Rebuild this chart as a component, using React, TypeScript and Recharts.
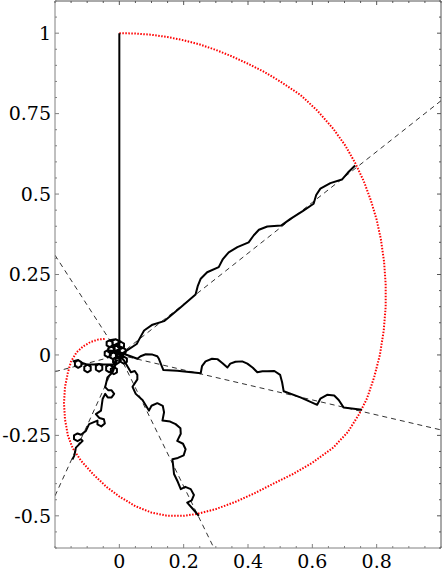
import { LineChart, Line, XAxis, YAxis } from 'recharts';

// axis ticks (every 0.05) and the ones that carry a label
const xTicks = [-0.2, -0.15, -0.1, -0.05, 0, 0.05, 0.1, 0.15, 0.2, 0.25, 0.3, 0.35, 0.4, 0.45, 0.5, 0.55, 0.6, 0.65, 0.7, 0.75, 0.8, 0.85, 0.9, 0.95, 1];
const xLabels = [0, 0.2, 0.4, 0.6, 0.8];
const yTicks = [-0.6, -0.55, -0.5, -0.45, -0.4, -0.35, -0.3, -0.25, -0.2, -0.15, -0.1, -0.05, 0, 0.05, 0.1, 0.15, 0.2, 0.25, 0.3, 0.35, 0.4, 0.45, 0.5, 0.55, 0.6, 0.65, 0.7, 0.75, 0.8, 0.85, 0.9, 0.95, 1, 1.05, 1.1];
const yLabels = [-0.5, -0.25, 0, 0.25, 0.5, 0.75, 1];

// dashed guide lines through the origin
const dashA = [{ x: 0, y: 0 }, { x: 1, y: 0.79 }];
const dashB = [{ x: 0, y: 0 }, { x: 1, y: -0.233 }];
const dashC = [{ x: -0.2, y: 0.31 }, { x: 0, y: 0 }];
const dashD = [{ x: 0, y: 0 }, { x: 0.294, y: -0.6 }];
const dashE = [{ x: -0.2, y: -0.052 }, { x: 0, y: 0 }];
const dashF = [{ x: -0.2, y: -0.438 }, { x: 0, y: 0 }];

// red dotted spiral
const spiral = [
  { x: 0, y: 1 }, { x: 0.05, y: 0.999 }, { x: 0.1, y: 0.995 }, { x: 0.15, y: 0.988 }, { x: 0.2, y: 0.978 },
  { x: 0.25, y: 0.965 }, { x: 0.3, y: 0.948 }, { x: 0.35, y: 0.928 }, { x: 0.4, y: 0.905 }, { x: 0.45, y: 0.88 },
  { x: 0.5, y: 0.85 }, { x: 0.563, y: 0.808 }, { x: 0.615, y: 0.76 }, { x: 0.665, y: 0.703 }, { x: 0.703, y: 0.65 },
  { x: 0.733, y: 0.597 }, { x: 0.76, y: 0.54 }, { x: 0.782, y: 0.48 }, { x: 0.8, y: 0.42 }, { x: 0.813, y: 0.36 },
  { x: 0.823, y: 0.29 }, { x: 0.828, y: 0.22 }, { x: 0.828, y: 0.15 }, { x: 0.822, y: 0.076 }, { x: 0.81, y: 0.0 },
  { x: 0.792, y: -0.07 }, { x: 0.77, y: -0.135 }, { x: 0.745, y: -0.185 }, { x: 0.71, y: -0.24 }, { x: 0.665, y: -0.288 },
  { x: 0.6, y: -0.335 }, { x: 0.54, y: -0.37 }, { x: 0.479, y: -0.4 }, { x: 0.42, y: -0.43 }, { x: 0.36, y: -0.457 },
  { x: 0.3, y: -0.479 }, { x: 0.242, y: -0.494 }, { x: 0.2, y: -0.5 }, { x: 0.15, y: -0.5 }, { x: 0.1, y: -0.49 },
  { x: 0.05, y: -0.47 }, { x: 0, y: -0.44 }, { x: -0.04, y: -0.41 }, { x: -0.08, y: -0.372 }, { x: -0.119, y: -0.329 },
  { x: -0.145, y: -0.29 }, { x: -0.16, y: -0.25 }, { x: -0.169, y: -0.2 }, { x: -0.172, y: -0.15 }, { x: -0.169, y: -0.1 },
  { x: -0.16, y: -0.055 }, { x: -0.15, y: -0.02 }, { x: -0.133, y: 0.008 }, { x: -0.112, y: 0.027 }, { x: -0.09, y: 0.04 },
  { x: -0.065, y: 0.048 }, { x: -0.042, y: 0.05 },
];

// black curves
const stem = [{ x: 0, y: 0.02 }, { x: 0, y: 1 }];

const upperArm = [
  { x: 0.01, y: 0.005 }, { x: 0.054, y: 0.034 }, { x: 0.068, y: 0.06 }, { x: 0.077, y: 0.076 }, { x: 0.103, y: 0.094 },
  { x: 0.139, y: 0.105 }, { x: 0.154, y: 0.117 }, { x: 0.191, y: 0.148 }, { x: 0.237, y: 0.188 }, { x: 0.244, y: 0.215 },
  { x: 0.253, y: 0.237 }, { x: 0.273, y: 0.257 }, { x: 0.309, y: 0.273 }, { x: 0.322, y: 0.298 }, { x: 0.34, y: 0.319 },
  { x: 0.367, y: 0.335 }, { x: 0.402, y: 0.35 }, { x: 0.418, y: 0.372 }, { x: 0.434, y: 0.389 }, { x: 0.46, y: 0.399 },
  { x: 0.503, y: 0.402 }, { x: 0.532, y: 0.423 }, { x: 0.57, y: 0.447 }, { x: 0.604, y: 0.47 }, { x: 0.612, y: 0.497 },
  { x: 0.625, y: 0.517 }, { x: 0.656, y: 0.534 }, { x: 0.692, y: 0.545 }, { x: 0.71, y: 0.566 }, { x: 0.733, y: 0.589 },
];

const rightArm = [
  { x: 0.015, y: 0.003 }, { x: 0.035, y: -0.004 }, { x: 0.056, y: -0.012 }, { x: 0.066, y: -0.004 }, { x: 0.082, y: 0.002 },
  { x: 0.103, y: 0.001 }, { x: 0.118, y: -0.004 }, { x: 0.123, y: -0.012 }, { x: 0.13, y: -0.03 }, { x: 0.137, y: -0.047 },
  { x: 0.18, y: -0.049 }, { x: 0.253, y: -0.057 }, { x: 0.257, y: -0.035 }, { x: 0.268, y: -0.02 }, { x: 0.288, y: -0.012 },
  { x: 0.305, y: -0.013 }, { x: 0.32, y: -0.025 }, { x: 0.336, y: -0.039 }, { x: 0.345, y: -0.027 }, { x: 0.361, y: -0.021 },
  { x: 0.382, y: -0.02 }, { x: 0.398, y: -0.027 }, { x: 0.415, y: -0.04 }, { x: 0.429, y: -0.054 }, { x: 0.445, y: -0.051 },
  { x: 0.46, y: -0.051 }, { x: 0.482, y: -0.05 }, { x: 0.5, y: -0.062 }, { x: 0.506, y: -0.085 }, { x: 0.511, y: -0.113 },
  { x: 0.563, y: -0.132 }, { x: 0.615, y: -0.155 }, { x: 0.625, y: -0.136 }, { x: 0.646, y: -0.124 }, { x: 0.668, y: -0.126 },
  { x: 0.682, y: -0.14 }, { x: 0.697, y: -0.163 }, { x: 0.754, y: -0.17 },
];

const lowerArm = [
  { x: 0.008, y: -0.01 }, { x: 0.015, y: -0.018 }, { x: 0.036, y: -0.054 }, { x: 0.048, y: -0.05 }, { x: 0.056, y: -0.062 },
  { x: 0.056, y: -0.076 }, { x: 0.041, y: -0.099 }, { x: 0.051, y: -0.121 }, { x: 0.072, y: -0.14 }, { x: 0.092, y: -0.173 },
  { x: 0.1, y: -0.158 }, { x: 0.118, y: -0.15 }, { x: 0.135, y: -0.158 }, { x: 0.139, y: -0.178 }, { x: 0.134, y: -0.204 },
  { x: 0.158, y: -0.207 }, { x: 0.175, y: -0.215 }, { x: 0.19, y: -0.228 }, { x: 0.191, y: -0.245 }, { x: 0.18, y: -0.267 },
  { x: 0.198, y: -0.276 }, { x: 0.206, y: -0.293 }, { x: 0.2, y: -0.312 }, { x: 0.182, y: -0.32 }, { x: 0.165, y: -0.324 },
  { x: 0.168, y: -0.35 }, { x: 0.17, y: -0.37 }, { x: 0.182, y: -0.395 }, { x: 0.191, y: -0.417 }, { x: 0.205, y: -0.41 },
  { x: 0.222, y: -0.417 }, { x: 0.232, y: -0.435 }, { x: 0.225, y: -0.452 }, { x: 0.211, y: -0.459 }, { x: 0.228, y: -0.478 },
  { x: 0.247, y: -0.5 },
];

const leftArm = [
  { x: -0.005, y: -0.015 }, { x: -0.02, y: -0.03 },
  { x: -0.031, y: -0.03 }, { x: -0.021, y: -0.036 }, { x: -0.021, y: -0.048 }, { x: -0.031, y: -0.054 }, { x: -0.041, y: -0.048 }, { x: -0.041, y: -0.036 }, { x: -0.031, y: -0.03 },
  { x: -0.05, y: -0.03 },
  { x: -0.063, y: -0.028 }, { x: -0.053, y: -0.034 }, { x: -0.053, y: -0.046 }, { x: -0.063, y: -0.052 }, { x: -0.073, y: -0.046 }, { x: -0.073, y: -0.034 }, { x: -0.063, y: -0.028 },
  { x: -0.08, y: -0.03 },
  { x: -0.099, y: -0.03 }, { x: -0.089, y: -0.036 }, { x: -0.089, y: -0.048 }, { x: -0.099, y: -0.054 }, { x: -0.109, y: -0.048 }, { x: -0.109, y: -0.036 }, { x: -0.099, y: -0.03 },
  { x: -0.115, y: -0.025 },
  { x: -0.128, y: -0.016 }, { x: -0.118, y: -0.022 }, { x: -0.118, y: -0.034 }, { x: -0.128, y: -0.04 }, { x: -0.138, y: -0.034 }, { x: -0.138, y: -0.022 }, { x: -0.128, y: -0.016 },
  { x: -0.145, y: -0.02 },
];

const lowerLeftArm = [
  { x: -0.008, y: -0.02 }, { x: -0.021, y: -0.054 }, { x: -0.037, y: -0.07 }, { x: -0.044, y: -0.1 },
  { x: -0.034, y: -0.11 }, { x: -0.024, y: -0.11 }, { x: -0.016, y: -0.121 }, { x: -0.024, y: -0.132 }, { x: -0.036, y: -0.132 }, { x: -0.044, y: -0.121 },
  { x: -0.052, y: -0.137 }, { x: -0.057, y: -0.173 }, { x: -0.073, y: -0.184 },
  { x: -0.062, y: -0.196 }, { x: -0.048, y: -0.2 }, { x: -0.045, y: -0.213 }, { x: -0.056, y: -0.222 }, { x: -0.068, y: -0.216 }, { x: -0.068, y: -0.204 },
  { x: -0.094, y: -0.215 }, { x: -0.104, y: -0.236 }, { x: -0.119, y: -0.248 },
  { x: -0.13, y: -0.244 }, { x: -0.141, y: -0.25 }, { x: -0.141, y: -0.262 }, { x: -0.13, y: -0.268 }, { x: -0.119, y: -0.262 },
  { x: -0.114, y: -0.267 }, { x: -0.125, y: -0.278 }, { x: -0.135, y: -0.288 }, { x: -0.14, y: -0.313 }, { x: -0.146, y: -0.325 },
];

// the tangle of small loops at the origin
const coreLoops = [
  { x: -0.03, y: 0.046 }, { x: -0.0205, y: 0.0405 }, { x: -0.0205, y: 0.0295 }, { x: -0.03, y: 0.024 }, { x: -0.0395, y: 0.0295 }, { x: -0.0395, y: 0.0405 }, { x: -0.03, y: 0.046 },
  { x: -0.012, y: 0.049 }, { x: -0.0025, y: 0.0435 }, { x: -0.0025, y: 0.0325 }, { x: -0.012, y: 0.027 }, { x: -0.0215, y: 0.0325 }, { x: -0.0215, y: 0.0435 }, { x: -0.012, y: 0.049 },
  { x: 0.005, y: 0.041 }, { x: 0.0145, y: 0.0355 }, { x: 0.0145, y: 0.0245 }, { x: 0.005, y: 0.019 }, { x: -0.0045, y: 0.0245 }, { x: -0.0045, y: 0.0355 }, { x: 0.005, y: 0.041 },
  { x: -0.025, y: 0.026 }, { x: -0.0155, y: 0.0205 }, { x: -0.0155, y: 0.0095 }, { x: -0.025, y: 0.004 }, { x: -0.0345, y: 0.0095 }, { x: -0.0345, y: 0.0205 }, { x: -0.025, y: 0.026 },
  { x: -0.008, y: 0.029 }, { x: 0.0015, y: 0.0235 }, { x: 0.0015, y: 0.0125 }, { x: -0.008, y: 0.007 }, { x: -0.0175, y: 0.0125 }, { x: -0.0175, y: 0.0235 }, { x: -0.008, y: 0.029 },
  { x: 0.01, y: 0.023 }, { x: 0.0195, y: 0.0175 }, { x: 0.0195, y: 0.0065 }, { x: 0.01, y: 0.001 }, { x: 0.0005, y: 0.0065 }, { x: 0.0005, y: 0.0175 }, { x: 0.01, y: 0.023 },
  { x: -0.02, y: 0.009 }, { x: -0.0105, y: 0.0035 }, { x: -0.0105, y: -0.0075 }, { x: -0.02, y: -0.013 }, { x: -0.0295, y: -0.0075 }, { x: -0.0295, y: 0.0035 }, { x: -0.02, y: 0.009 },
  { x: 0.002, y: 0.009 }, { x: 0.0115, y: 0.0035 }, { x: 0.0115, y: -0.0075 }, { x: 0.002, y: -0.013 }, { x: -0.0075, y: -0.0075 }, { x: -0.0075, y: 0.0035 }, { x: 0.002, y: 0.009 },
  { x: -0.036, y: 0.015 }, { x: -0.0265, y: 0.0095 }, { x: -0.0265, y: -0.0015 }, { x: -0.036, y: -0.007 }, { x: -0.0455, y: -0.0015 }, { x: -0.0455, y: 0.0095 }, { x: -0.036, y: 0.015 },
  { x: 0.014, y: -0.005 }, { x: 0.0235, y: -0.0105 }, { x: 0.0235, y: -0.0215 }, { x: 0.014, y: -0.027 }, { x: 0.0045, y: -0.0215 }, { x: 0.0045, y: -0.0105 }, { x: 0.014, y: -0.005 },
  { x: -0.01, y: -0.007 }, { x: -0.0005, y: -0.0125 }, { x: -0.0005, y: -0.0235 }, { x: -0.01, y: -0.029 }, { x: -0.0195, y: -0.0235 }, { x: -0.0195, y: -0.0125 }, { x: -0.01, y: -0.007 },
  { x: -0.017, y: -0.038 }, { x: -0.0075, y: -0.0435 }, { x: -0.0075, y: -0.0545 }, { x: -0.017, y: -0.06 }, { x: -0.0265, y: -0.0545 }, { x: -0.0265, y: -0.0435 }, { x: -0.017, y: -0.038 },
];

const axisGray = '#808080';
const frameGray = '#555555';
const serif = 'DejaVu Serif';
const labelSize = 19;

const near = (v: number, list: number[]) => list.some((t) => Math.abs(t - v) < 1e-6);
const fmt = (v: number) => (Math.abs(v) < 1e-9 ? '0' : String(v));

function BottomTick(props: any) {
  const { x, y, payload } = props;
  const major = near(payload.value, xLabels);
  return (
    <g>
      <line x1={x} x2={x} y1={y} y2={y - (major ? 4 : 2)} stroke={axisGray} />
      {major && (
        <text x={x} y={y + 20} textAnchor="middle" fontFamily={serif} fontSize={labelSize} fill="#000">
          {fmt(payload.value)}
        </text>
      )}
    </g>
  );
}

function LeftTick(props: any) {
  const { x, y, payload } = props;
  const major = near(payload.value, yLabels);
  return (
    <g>
      <line x1={x} x2={x + (major ? 4 : 2)} y1={y} y2={y} stroke={axisGray} />
      {major && (
        <text x={x - 4} y={y} dy="0.36em" textAnchor="end" fontFamily={serif} fontSize={labelSize} fill="#000">
          {fmt(payload.value)}
        </text>
      )}
    </g>
  );
}

function TopTick(props: any) {
  const { x, y, payload } = props;
  const major = near(payload.value, xLabels);
  return <line x1={x} x2={x} y1={y} y2={y + (major ? 4 : 2)} stroke={frameGray} />;
}

function RightTick(props: any) {
  const { x, y, payload } = props;
  const major = near(payload.value, yLabels);
  return <line x1={x} x2={x - (major ? 4 : 2)} y1={y} y2={y} stroke={frameGray} />;
}

const dashed = [dashA, dashB, dashC, dashD, dashE, dashF];
const blackCurves = [stem, upperArm, rightArm, lowerArm, leftArm, lowerLeftArm, coreLoops];

export default function App() {
  return (
    <div style={{ position: 'absolute', left: 0, top: 0, width: 442, height: 573, background: '#fff' }}>
      <LineChart width={442} height={573} margin={{ top: 0, right: 0, bottom: 0, left: 0 }}>
        <XAxis
          type="number"
          dataKey="x"
          domain={[-0.2, 1]}
          ticks={xTicks}
          interval={0}
          allowDataOverflow
          height={25}
          tickSize={0}
          tickMargin={0}
          tick={<BottomTick />}
          axisLine={{ stroke: axisGray }}
          tickLine={false}
        />
        <XAxis
          xAxisId="top"
          orientation="top"
          type="number"
          dataKey="x"
          domain={[-0.2, 1]}
          ticks={xTicks}
          interval={0}
          allowDataOverflow
          height={1}
          tickSize={0}
          tickMargin={0}
          tick={<TopTick />}
          axisLine={{ stroke: frameGray }}
          tickLine={false}
        />
        <YAxis
          type="number"
          dataKey="y"
          domain={[-0.6, 1.1]}
          ticks={yTicks}
          interval={0}
          allowDataOverflow
          width={55}
          tickSize={0}
          tickMargin={0}
          tick={<LeftTick />}
          axisLine={{ stroke: axisGray }}
          tickLine={false}
        />
        <YAxis
          yAxisId="right"
          orientation="right"
          type="number"
          dataKey="y"
          domain={[-0.6, 1.1]}
          ticks={yTicks}
          interval={0}
          allowDataOverflow
          width={1}
          tickSize={0}
          tickMargin={0}
          tick={<RightTick />}
          axisLine={{ stroke: frameGray }}
          tickLine={false}
        />
        {dashed.map((d, i) => (
          <Line
            key={'d' + i}
            data={d}
            dataKey="y"
            type="linear"
            stroke="#333"
            strokeWidth={1}
            strokeDasharray="5 4"
            dot={false}
            activeDot={false}
            isAnimationActive={false}
          />
        ))}
        <Line
          data={spiral}
          dataKey="y"
          type="linear"
          stroke="#ff0000"
          strokeWidth={2}
          strokeDasharray="1.5 1.5"
          dot={false}
          activeDot={false}
          isAnimationActive={false}
        />
        {blackCurves.map((d, i) => (
          <Line
            key={'b' + i}
            data={d}
            dataKey="y"
            type="linear"
            stroke="#000"
            strokeWidth={2}
            strokeLinejoin="round"
            dot={false}
            activeDot={false}
            isAnimationActive={false}
          />
        ))}
      </LineChart>
    </div>
  );
}
